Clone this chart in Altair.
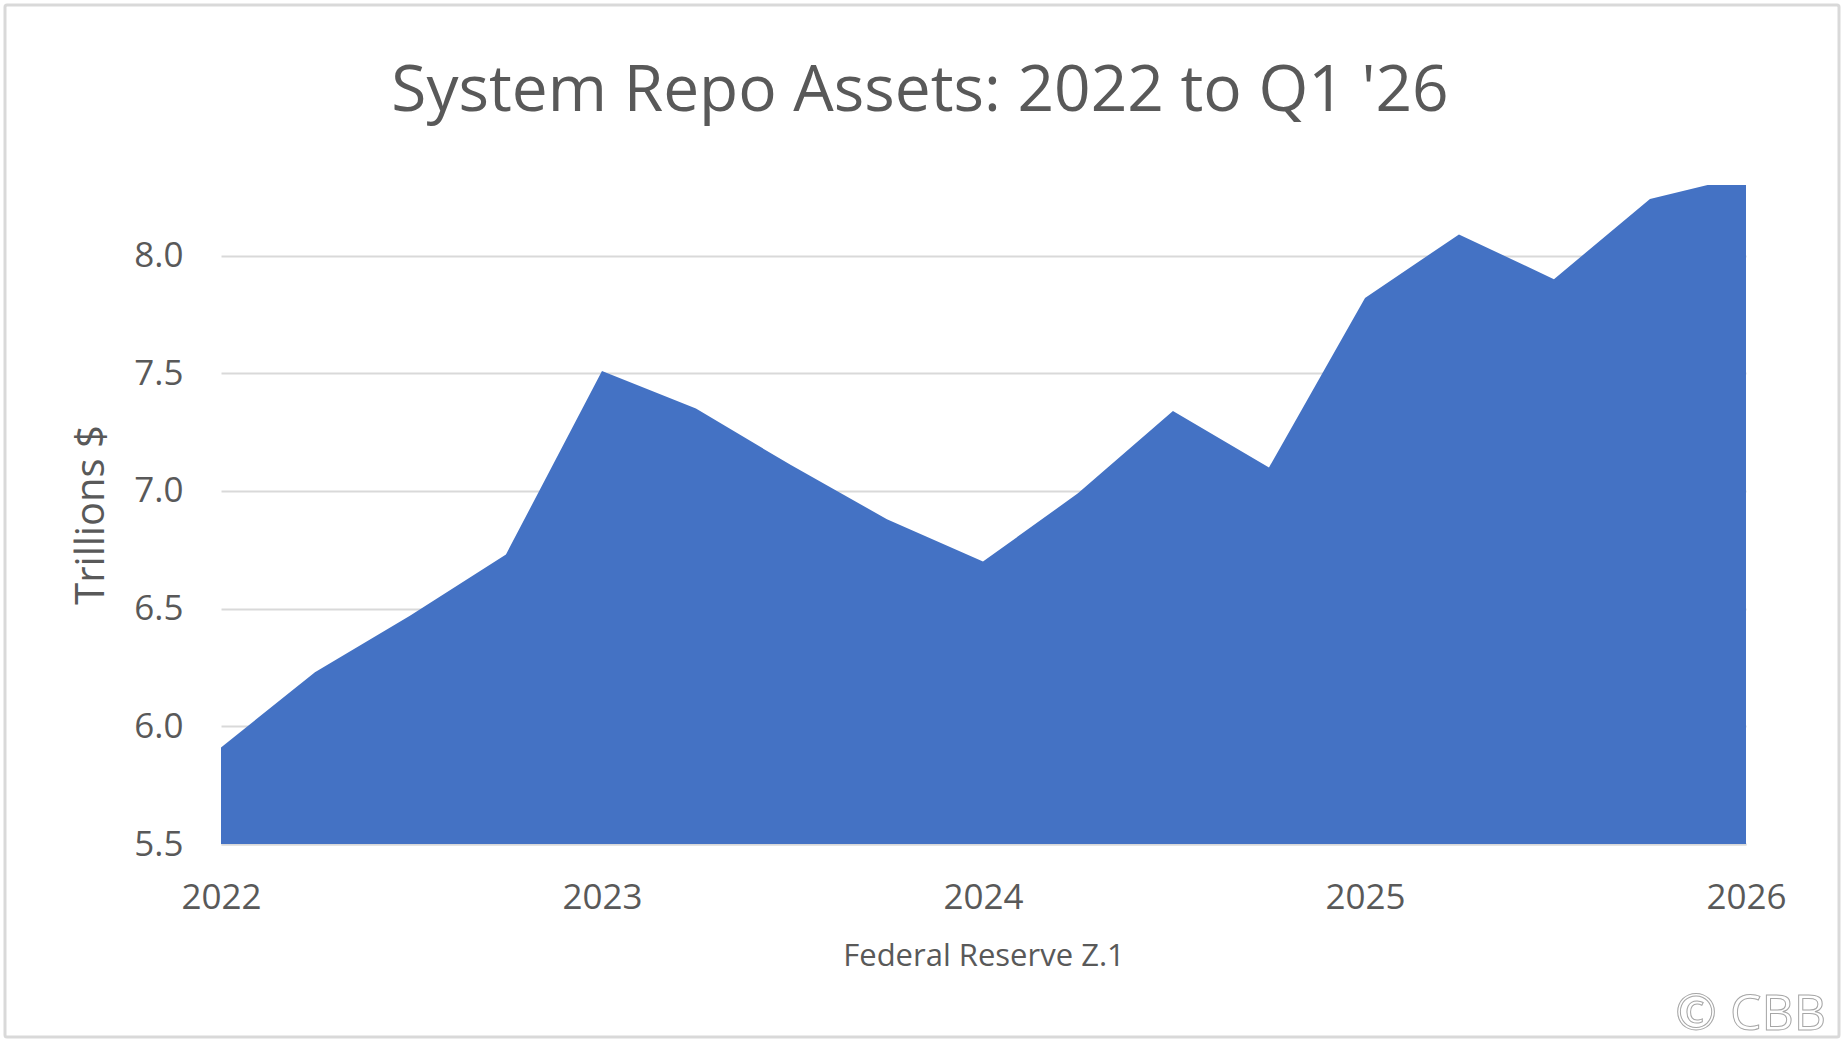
import altair as alt
import pandas as pd

# ---- data ----
quarters = [
    "2022-01-01", "2022-04-01", "2022-07-01", "2022-10-01",
    "2023-01-01", "2023-04-01", "2023-07-01", "2023-10-01",
    "2024-01-01", "2024-04-01", "2024-07-01", "2024-10-01",
    "2025-01-01", "2025-04-01", "2025-07-01", "2025-10-01",
    "2026-01-01",
]
repo_trillions = [
    5.91, 6.23, 6.47, 6.73,
    7.51, 7.35, 7.11, 6.88,
    6.70, 6.99, 7.34, 7.10,
    7.82, 8.09, 7.90, 8.24,
    8.34,
]
y_ticks = [5.5, 6.0, 6.5, 7.0, 7.5, 8.0]
y_domain = [5.5, 8.3]
x_domain = ["2022-01-01", "2026-01-01"]
title_text = "System Repo Assets: 2022 to Q1 '26"
x_title = "Federal Reserve Z.1"
y_title = "Trillions $"
credit = "©   CBB"

df = pd.DataFrame({"date": quarters, "value": repo_trillions})

FONT = "Open Sans"
TXT = "#595959"
W, H = 1525, 659
PL, PT = 221, 185

area = alt.Chart(df).mark_area(color="#4472C4", clip=True, opacity=1).encode(
    x=alt.X(
        "date:T",
        scale=alt.Scale(type="utc", domain=x_domain),
        axis=alt.Axis(
            format="%Y",
            tickCount={"interval": "year", "step": 1},
            grid=False,
            ticks=False,
            domain=True,
            domainColor="#D9D9D9",
            domainWidth=2,
            labelFont=FONT,
            labelFontSize=35,
            labelColor=TXT,
            labelPadding=36,
            labelFlush=False,
            title=x_title,
            titleFont=FONT,
            titleFontSize=31,
            titleFontWeight="normal",
            titleColor=TXT,
            titleY=112,
            titleBaseline="middle",
        ),
    ),
    y=alt.Y(
        "value:Q",
        scale=alt.Scale(domain=y_domain, nice=False, zero=False),
        axis=alt.Axis(
            values=y_ticks,
            format=".1f",
            grid=True,
            gridColor="#D9D9D9",
            gridWidth=2,
            ticks=False,
            domain=False,
            labelFont=FONT,
            labelFontSize=35,
            labelColor=TXT,
            labelPadding=38,
            title=y_title,
            titleFont=FONT,
            titleFontSize=40,
            titleFontWeight="normal",
            titleColor=TXT,
            titleAngle=-90,
            titleX=91 - PL,
            titleY=H / 2,
            titleAlign="center",
            titleBaseline="middle",
        ),
    ),
)

border = alt.Chart(pd.DataFrame({"a": [0]})).mark_rect(
    fill=None, stroke="#D9D9D9", strokeWidth=3, cornerRadius=2
).encode(
    x=alt.value(5 - PL), x2=alt.value(1839 - PL),
    y=alt.value(5 - PT), y2=alt.value(1037 - PT),
)

title_mark = alt.Chart(pd.DataFrame({"t": [title_text]})).mark_text(
    font=FONT, fontSize=64, color=TXT, align="center", baseline="alphabetic",
).encode(
    text="t:N",
    x=alt.value(920 - PL), y=alt.value(111 - PT),
)

mark_credit = alt.Chart(pd.DataFrame({"t": [credit]})).mark_text(
    font=FONT, fontSize=50, fill="white", stroke="#A6A6A6", strokeWidth=1,
    align="right", baseline="alphabetic",
).encode(
    text="t:N",
    x=alt.value(1826 - PL), y=alt.value(1030 - PT),
)

chart = alt.layer(area, border, title_mark, mark_credit).properties(
    width=W,
    height=H,
    padding={"left": PL, "top": PT, "right": 1847 - PL - W, "bottom": 1045 - PT - H},
    autosize=alt.AutoSizeParams(type="none"),
    background="white",
).configure_view(stroke=None)

chart.save("out.html", embed_options={"renderer": "svg", "actions": False})
